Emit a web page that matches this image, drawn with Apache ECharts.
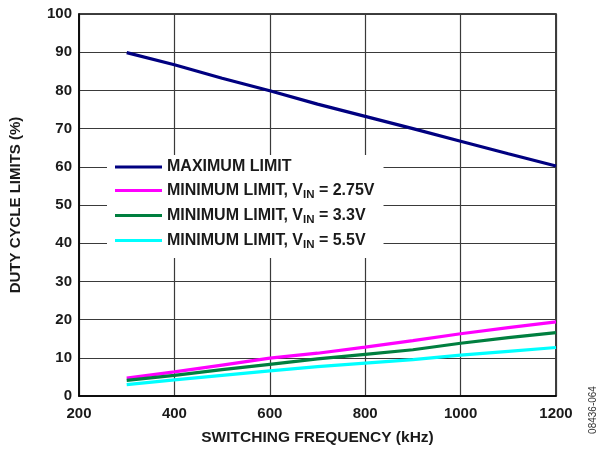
<!DOCTYPE html>
<html><head><meta charset="utf-8">
<script src="https://cdn.jsdelivr.net/npm/echarts@6/dist/echarts.min.js"></script>
<style>html,body{margin:0;padding:0;background:#fff}#c{width:600px;height:451px}</style>
</head><body><div id="c"></div>
<script>
const freq = [300, 400, 500, 600, 700, 800, 900, 1000, 1100, 1200];
const maxLimit = [89.9, 86.7, 83.2, 79.9, 76.4, 73.2, 70.0, 66.7, 63.4, 60.2];
const min275 = [4.7, 6.3, 8.1, 9.9, 11.2, 12.8, 14.5, 16.3, 17.9, 19.4];
const min33 = [4.1, 5.4, 6.9, 8.3, 9.7, 10.9, 12.1, 13.8, 15.3, 16.6];
const min55 = [3.0, 4.2, 5.4, 6.6, 7.7, 8.6, 9.5, 10.7, 11.7, 12.7];
const seriesNames = ['MAXIMUM LIMIT', 'MINIMUM LIMIT, VIN = 2.75V', 'MINIMUM LIMIT, VIN = 3.3V', 'MINIMUM LIMIT, VIN = 5.5V'];
const seriesColors = ['#000080', '#ff00ff', '#007f3f', '#00ffff'];
const seriesData = [maxLimit, min275, min33, min55];
const xTicks = [200, 400, 600, 800, 1000, 1200];
const yTicks = [0, 10, 20, 30, 40, 50, 60, 70, 80, 90, 100];

const chart = echarts.init(document.getElementById('c'), null, {renderer: 'canvas'});
const font = 'Arial, "Liberation Sans", sans-serif';
chart.setOption({
  animation: false,
  backgroundColor: '#fff',
  grid: {left: 78, right: 44, top: 14, bottom: 55, show: true, borderColor: '#000', borderWidth: 1.5},
  xAxis: {
    type: 'value', min: xTicks[0], max: xTicks[xTicks.length - 1], interval: 200,
    name: 'SWITCHING FREQUENCY (kHz)', nameLocation: 'middle', nameGap: 34,
    nameTextStyle: {fontFamily: font, fontWeight: 'bold', fontSize: 15.5, color: '#1a1a1a'},
    axisLine: {show: true, lineStyle: {color: '#000', width: 1.5}},
    axisTick: {show: false},
    axisLabel: {fontFamily: font, fontWeight: 'bold', fontSize: 15, color: '#1a1a1a', margin: 10,
      formatter: function (v) { return String(v); }},
    splitLine: {show: true, lineStyle: {color: '#3a3a3a', width: 1.2}}
  },
  yAxis: {
    type: 'value', min: yTicks[0], max: yTicks[yTicks.length - 1], interval: 10,
    name: 'DUTY CYCLE LIMITS (%)', nameLocation: 'middle', nameGap: 56,
    nameTextStyle: {fontFamily: font, fontWeight: 'bold', fontSize: 15, color: '#1a1a1a'},
    axisLine: {show: true, lineStyle: {color: '#000', width: 1.5}},
    axisTick: {show: false},
    axisLabel: {fontFamily: font, fontWeight: 'bold', fontSize: 15, color: '#1a1a1a', margin: 7},
    splitLine: {show: true, lineStyle: {color: '#3a3a3a', width: 1.2}}
  },
  legend: {
    orient: 'vertical', left: 107, top: 155,
    backgroundColor: '#fff', padding: [3, 9, 7, 8], itemGap: 4,
    itemWidth: 47, itemHeight: 3, icon: 'rect',
    data: seriesNames,
    formatter: function (n) { return n.replace('VIN', 'V{sub|IN}'); },
    textStyle: {fontFamily: font, fontWeight: 'bold', fontSize: 16, color: '#1a1a1a', lineHeight: 18,
      rich: {sub: {fontFamily: font, fontWeight: 'bold', fontSize: 11.5, color: '#1a1a1a', lineHeight: 18, padding: [9, 0, 0, 0]}}}
  },
  graphic: [{
    type: 'text', x: 593, y: 410, rotation: Math.PI / 2,
    style: {text: '08436-064', font: '10px ' + font, fill: '#333', align: 'center', verticalAlign: 'middle'}
  }],
  series: seriesNames.map((n, i) => ({
    name: n, type: 'line', smooth: false, showSymbol: false, symbol: 'none',
    data: freq.map((f, j) => [f, seriesData[i][j]]),
    lineStyle: {color: seriesColors[i], width: 3.2},
    itemStyle: {color: seriesColors[i]}, z: 3
  }))
});
</script></body></html>
